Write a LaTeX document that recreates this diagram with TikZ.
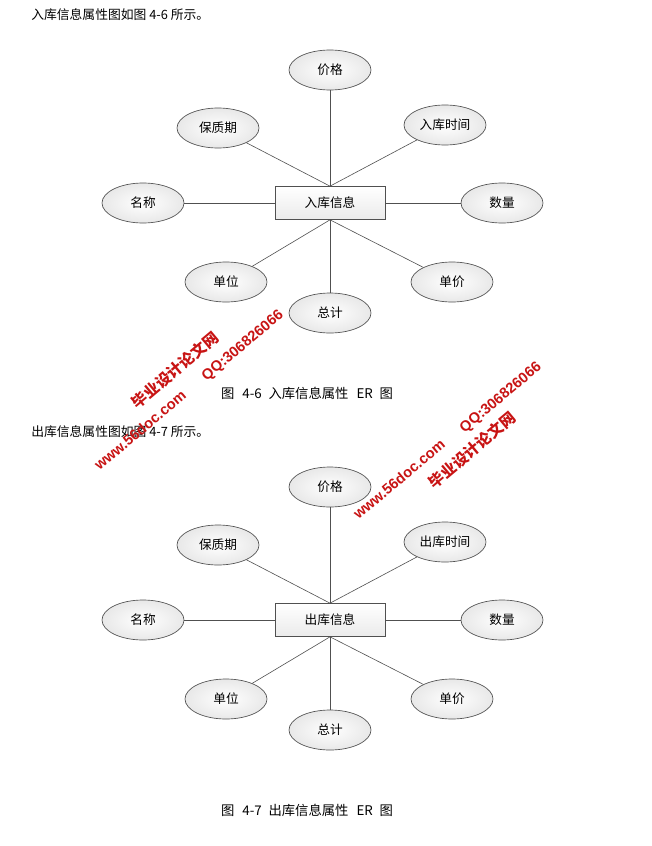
\documentclass[tikz,border=0pt]{standalone}
\usepackage{fontspec}
\setmainfont{Liberation Serif}
\newfontfamily\cjk{Noto Sans CJK SC}
\newfontfamily\wmlat{Liberation Sans}
\usetikzlibrary{shapes.geometric}
\definecolor{wmred}{RGB}{200,20,20}
\definecolor{edge}{RGB}{80,80,80}
\newcommand\erdraw[4]{%
  \node[entbox] (#1e) at (330,{203+#2}) {#3};
  \node[attr] (#1jg) at (330,{70+#2}) {价格};
  \node[attr] (#1bz) at (218,{128+#2}) {保质期};
  \node[attr] (#1sj) at (445,{125+#2}) {#4};
  \node[attr] (#1mc) at (143,{203+#2}) {名称};
  \node[attr] (#1sl) at (502,{203+#2}) {数量};
  \node[attr] (#1dw) at (226,{282+#2}) {单位};
  \node[attr] (#1dj) at (452,{282+#2}) {单价};
  \node[attr] (#1zj) at (330,{313+#2}) {总计};
  \draw[link] (#1e.north) -- (#1jg);
  \draw[link] (#1e.north) -- (#1bz);
  \draw[link] (#1e.north) -- (#1sj);
  \draw[link] (#1e.west) -- (#1mc);
  \draw[link] (#1e.east) -- (#1sl);
  \draw[link] (#1e.south) -- (#1dw);
  \draw[link] (#1e.south) -- (#1dj);
  \draw[link] (#1e.south) -- (#1zj);
}
\begin{document}
\begin{tikzpicture}[x=0.75pt,y=-0.75pt,
  attr/.style={ellipse, draw=edge, line width=0.5pt, inner color=white, outer color=gray!18,
    minimum width=61.5pt, minimum height=30pt, inner sep=0pt, font=\cjk\fontsize{9.5}{10}\selectfont},
  entbox/.style={rectangle, draw=edge, line width=0.5pt, top color=white, bottom color=gray!16,
    minimum width=82.5pt, minimum height=24.75pt, inner sep=0pt, font=\cjk\fontsize{9.5}{10}\selectfont},
  link/.style={draw=edge, line width=0.45pt},
  body/.style={anchor=west, inner sep=0pt, font=\cjk\fontsize{9.6}{10}\selectfont},
  capt/.style={inner sep=0pt, font=\cjk\fontsize{10}{10}\selectfont},
  wm/.style={text=wmred, rotate=40, inner sep=0pt},
  wmcn/.style={wm, font=\cjk\bfseries\fontsize{11.5}{12}\selectfont},
  wmen/.style={wm, font=\wmlat\bfseries\fontsize{11}{12}\selectfont}]
\useasboundingbox[fill=white] (0,0) rectangle (652,846);
\node[body] (t1) at (31,15) {入库信息属性图如图 4-6 所示。};
\node[body] (t2) at (31,432) {出库信息属性图如图 4-7 所示。};
\node[capt] (c1) at (307,393) {图\hspace{0.6em}4-6\hspace{0.5em}入库信息属性\hspace{0.6em}ER\hspace{0.5em}图};
\node[capt] (c2) at (307,810) {图\hspace{0.6em}4-7\hspace{0.5em}出库信息属性\hspace{0.6em}ER\hspace{0.5em}图};
\erdraw{a}{0}{入库信息}{入库时间}
\erdraw{b}{417}{出库信息}{出库时间}
\node[wmcn] (w1) at (175,370) {毕业设计论文网};
\node[wmen] (w2) at (243,346) {QQ:306826066};
\node[wmen] (w3) at (140,430) {www.56doc.com};
\node[wmen] (w4) at (399,479) {www.56doc.com};
\node[wmen] (w5) at (501,398) {QQ:306826066};
\node[wmcn] (w6) at (472,450) {毕业设计论文网};
\end{tikzpicture}
\end{document}
